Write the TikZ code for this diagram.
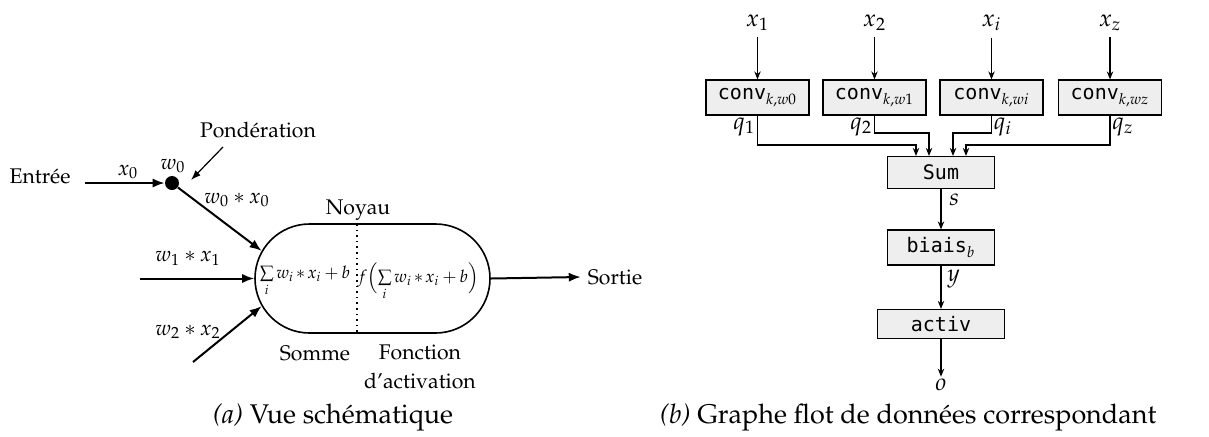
\documentclass[tikz,border=0pt]{standalone}
\usepackage[T1]{fontenc}
\usepackage{mathpazo}
\usepackage[no-math]{fontspec}
\newfontfamily\monof{DejaVu Sans Mono}
\usetikzlibrary{arrows.meta,shapes.misc,calc}
\newcommand\palf{\fontencoding{T1}\fontfamily{ppl}\selectfont}
\newcommand\mst{\mkern2mu{\ast}\mkern2mu}
\newcommand\mpl{\mkern3mu{+}\mkern3mu}
\begin{document}
\begin{tikzpicture}[x=0.5pt,y=-0.5pt,
  font={\palf\fontsize{10.6}{13}\selectfont},
  lbl/.style={inner sep=1pt},
  rlbl/.style={inner sep=1pt,font={\palf\fontsize{12}{14}\selectfont}},
  arr/.style={line width=1pt,-{Latex[length=6pt,width=4.6pt]}},
  thinarr/.style={line width=0.6pt,-{Latex[length=5pt,width=3.6pt]}},
  rarr/.style={line width=0.6pt,-{Stealth[length=4pt,width=3.2pt]}},
  blk/.style={draw,line width=0.6pt,fill=gray!13,inner sep=0pt,
    font={\monof\fontsize{10}{12}\selectfont}},
  capt/.style={anchor=west,font={\palf\fontsize{13.5}{15}\selectfont}}]
\fill[white] (0,0) rectangle (1209,436);
\useasboundingbox (0,0) rectangle (1209,436);

% ---------- (a) schematic view ----------
\node[rounded rectangle,draw,line width=0.8pt,minimum width=117.5pt,
  minimum height=54.5pt,inner sep=0pt] (pill) at (372.5,278.5) {};
\draw[dotted,line width=0.8pt] (357,224) -- (357,333);
\node (sumf) at (305,281) {\fontsize{8.6}{10}\selectfont$\sum\limits_i w_i \mst x_i \mpl b$};
\node (actf) at (418,281) {\fontsize{8.6}{10}\selectfont$f\Bigl(\sum\limits_i w_i \mst x_i \mpl b\Bigr)$};
\node (noyau) at (358,210) {Noyau};
\node (somme) at (315,353) {Somme};
\node[align=center,font={\palf\fontsize{10.6}{14.5}\selectfont}] (fonct) at (420,367) {Fonction\\d'activation};

\node (entree) at (40,176) {Entr\'ee};
\coordinate (e0) at (85,183);
\node[circle,fill,inner sep=0pt,minimum size=7pt] (dot) at (172,183) {};
\draw[arr] (e0) -- (dot);
\node[lbl] (lx0) at (128,172) {$x_0$};
\node[lbl] (lw0) at (173,166) {$w_0$};
\node (pond) at (258,130) {Pond\'eration};
\coordinate (p0) at (223,147);
\coordinate (p1) at (191,180);
\draw[thinarr] (p0) -- (p1);
\draw[arr] (dot) -- (pill.166);
\node[lbl] (lwx0) at (237,200) {$w_0 \ast x_0$};
\coordinate (i1) at (140,278.5);
\draw[arr] (i1) -- (pill.west);
\node[lbl] (lwx1) at (188,258) {$w_1 \ast x_1$};
\coordinate (i2) at (193,362);
\draw[arr] (i2) -- (pill.194);
\node[lbl] (lwx2) at (188,332) {$w_2 \ast x_2$};
\node (sortie) at (615,277) {Sortie};
\draw[arr] (pill.east) -- (sortie.west);

\node[capt] (capa) at (206,418) {\textit{(a)} Vue sch\'ematique};

% ---------- (b) dataflow graph ----------
\foreach \n/\cx/\xl/\sub in {1/757.5/x_1/{k,w0},2/874.5/x_2/{k,w1},3/991.5/x_i/{k,wi},4/1110/x_z/{k,wz}}{
  \node[rlbl] (x\n) at (\cx,23) {$\xl$};
  \node[blk,minimum width=51.5pt,minimum height=17.5pt] (c\n) at (\cx,97.5) {conv$_{\sub}$};
  \draw[rarr,shorten <=2pt] (x\n.south) -- (c\n.north);
}
\node[blk,minimum width=53.5pt,minimum height=16pt] (sum) at (941,172.5) {Sum};
\node[blk,minimum width=53.5pt,minimum height=17.5pt] (biais) at (941,247.5) {biais$_b$};
\node[blk,minimum width=63.5pt,minimum height=14.5pt] (activ) at (941,324) {activ};

\node[rlbl,anchor=north east] (q1) at (c1.south) {$q_1$};
\node[rlbl,anchor=north east] (q2) at (c2.south) {$q_2$};
\node[rlbl,anchor=north west] (q3) at (c3.south) {$q_i$};
\node[rlbl,anchor=north west] (q4) at (c4.south) {$q_z$};

\coordinate (m1) at (916,145);
\coordinate (m2) at (929,133);
\coordinate (m3) at (953,133);
\coordinate (m4) at (966,145);
\draw[rarr] (c1.south) |- (m1) -- (m1 |- sum.north);
\draw[rarr] (c2.south) |- (m2) -- (m2 |- sum.north);
\draw[rarr] (c3.south) |- (m3) -- (m3 |- sum.north);
\draw[rarr] (c4.south) |- (m4) -- (m4 |- sum.north);

\draw[rarr] (sum.south) -- (biais.north);
\node[rlbl,anchor=north west,inner sep=2pt] (ls) at ([xshift=2pt]sum.south) {$s$};
\draw[rarr] (biais.south) -- (activ.north);
\node[rlbl,anchor=north west,inner sep=2pt] (ly) at ([xshift=1pt]biais.south) {$y$};
\node[rlbl] (o) at (941,385) {$o$};
\draw[rarr] (activ.south) -- (o.north);

\node[capt] (capb) at (653,418) {\textit{(b)} Graphe flot de donn\'ees correspondant};
\end{tikzpicture}
\end{document}
